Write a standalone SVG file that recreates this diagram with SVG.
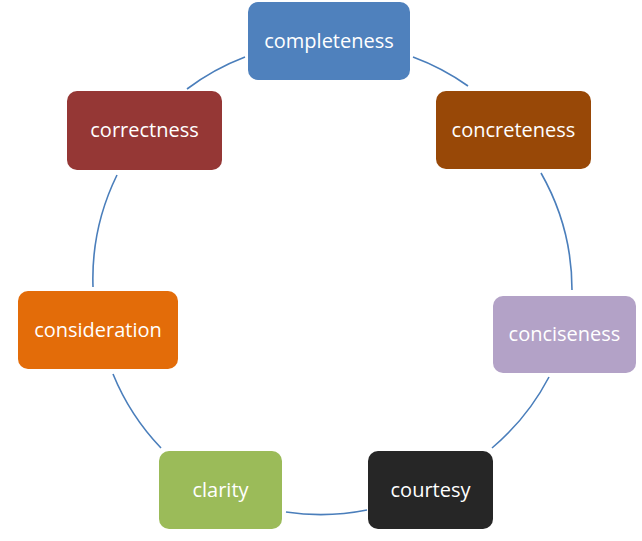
<svg xmlns="http://www.w3.org/2000/svg" width="642" height="541" viewBox="0 0 642 541">
<style>
.box{stroke:none}
.lbl{font-family:"Open Sans","Liberation Sans",sans-serif;font-size:20px;fill:#ffffff;text-anchor:middle}
.arc{fill:none;stroke:#4A7EBB;stroke-width:1.6}
</style>
<rect width="642" height="541" fill="#ffffff"/>
<g id="connectors">
<path class="arc" d="M413,57 A236,236 0 0 1 468,86"/>
<path class="arc" d="M541,173 A236,236 0 0 1 572,290"/>
<path class="arc" d="M549,377 A236,236 0 0 1 492,448"/>
<path class="arc" d="M367,510 A236,236 0 0 1 286,512"/>
<path class="arc" d="M161,448 A236,236 0 0 1 113,374"/>
<path class="arc" d="M93,287 A236,236 0 0 1 117,175"/>
<path class="arc" d="M187,89 A236,236 0 0 1 245,57"/>
</g>
<g id="completeness">
<rect class="box" x="248" y="2" width="162" height="78" rx="10" fill="#4F81BD"/>
<text class="lbl" x="329" y="48">completeness</text>
</g>
<g id="concreteness">
<rect class="box" x="436" y="91" width="155" height="78" rx="10" fill="#984807"/>
<text class="lbl" x="513.5" y="137">concreteness</text>
</g>
<g id="conciseness">
<rect class="box" x="493" y="296" width="143" height="77" rx="10" fill="#B3A2C7"/>
<text class="lbl" x="564.5" y="341">conciseness</text>
</g>
<g id="courtesy">
<rect class="box" x="368" y="451" width="125" height="78" rx="10" fill="#262626"/>
<text class="lbl" x="430.5" y="497">courtesy</text>
</g>
<g id="clarity">
<rect class="box" x="159" y="451" width="123" height="78" rx="10" fill="#9BBB59"/>
<text class="lbl" x="220.5" y="497">clarity</text>
</g>
<g id="consideration">
<rect class="box" x="18" y="291" width="160" height="78" rx="10" fill="#E36C09"/>
<text class="lbl" x="98" y="336.5">consideration</text>
</g>
<g id="correctness">
<rect class="box" x="67" y="91" width="155" height="79" rx="10" fill="#953735"/>
<text class="lbl" x="144.5" y="137">correctness</text>
</g>
</svg>
